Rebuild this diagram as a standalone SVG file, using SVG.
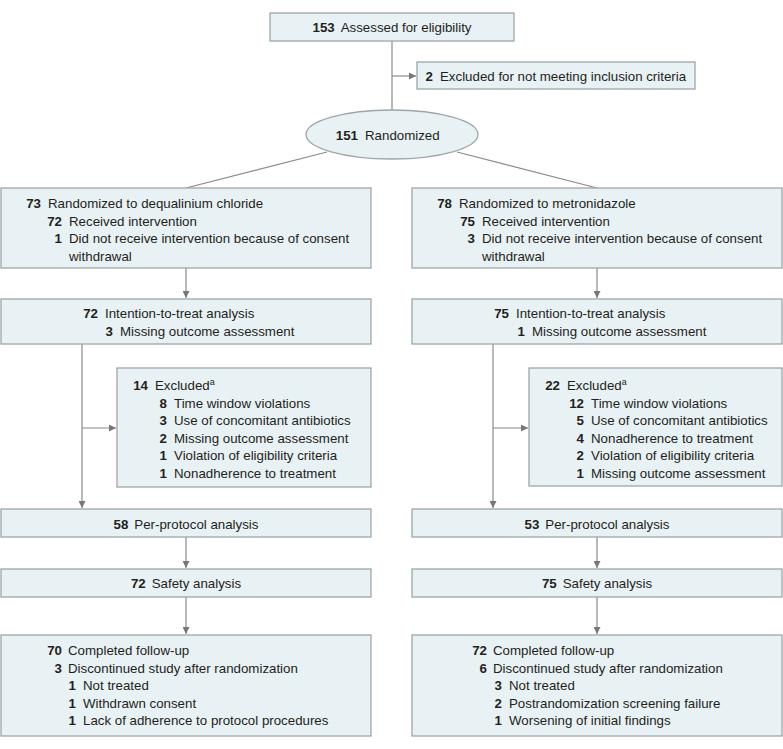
<svg xmlns="http://www.w3.org/2000/svg" width="783" height="749" viewBox="0 0 783 749">
<defs>
<style>
.box{fill:#e8f1f4;stroke:#9ea6a9;stroke-width:1.3}
text{font-family:"Liberation Sans",Arial,sans-serif;font-size:13.3px;fill:#231f20}
.n{font-weight:bold;text-anchor:end}
.b{font-weight:bold}
.c{text-anchor:middle}
.ln{stroke:#8a8a8a;stroke-width:1.2;fill:none}
.sp{font-size:9px}
</style>
<marker id="ah" viewBox="0 0 10 10" refX="10" refY="5" markerWidth="7" markerHeight="7" markerUnits="userSpaceOnUse" orient="auto">
<path d="M0,0 L10,5 L0,10 z" fill="#777"/>
</marker>
</defs>
<rect width="783" height="749" fill="#fff"/>

<g id="connectors">
<line class="ln" x1="392" y1="41" x2="392" y2="110"/>
<line class="ln" x1="392" y1="76" x2="416" y2="76" marker-end="url(#ah)"/>
<line class="ln" x1="327" y1="152" x2="186" y2="188"/>
<line class="ln" x1="457" y1="152" x2="597" y2="188"/>
<line class="ln" x1="186" y1="268" x2="186" y2="298" marker-end="url(#ah)"/>
<line class="ln" x1="597" y1="268" x2="597" y2="298" marker-end="url(#ah)"/>
<line class="ln" x1="82" y1="344" x2="82" y2="508" marker-end="url(#ah)"/>
<line class="ln" x1="82" y1="428" x2="116" y2="428" marker-end="url(#ah)"/>
<line class="ln" x1="493" y1="344" x2="493" y2="508" marker-end="url(#ah)"/>
<line class="ln" x1="493" y1="428" x2="528" y2="428" marker-end="url(#ah)"/>
<line class="ln" x1="186" y1="537" x2="186" y2="568" marker-end="url(#ah)"/>
<line class="ln" x1="597" y1="537" x2="597" y2="568" marker-end="url(#ah)"/>
<line class="ln" x1="186" y1="597" x2="186" y2="634" marker-end="url(#ah)"/>
<line class="ln" x1="597" y1="597" x2="597" y2="634" marker-end="url(#ah)"/>
</g>

<g id="assessed">
<rect class="box" x="270" y="13" width="244" height="28"/>
<text x="392" y="32" class="c"><tspan class="b">153</tspan><tspan dx="6">Assessed for eligibility</tspan></text>
</g>

<g id="excluded-top">
<rect class="box" x="417" y="62" width="278" height="27"/>
<text x="433" y="81" class="n">2</text>
<text x="440" y="81">Excluded for not meeting inclusion criteria</text>
</g>

<g id="randomized">
<ellipse cx="392" cy="134.5" rx="86" ry="24.5" fill="#e8f1f4" stroke="#9ea6a9" stroke-width="1.3"/>
<text x="358" y="140" class="n">151</text>
<text x="365" y="140">Randomized</text>
</g>

<g id="alloc-left">
<rect class="box" x="1" y="188" width="370" height="80"/>
<text x="41" y="208" class="n">73</text><text x="48" y="208">Randomized to dequalinium chloride</text>
<text x="62" y="225.5" class="n">72</text><text x="69" y="225.5">Received intervention</text>
<text x="62" y="243" class="n">1</text><text x="69" y="243">Did not receive intervention because of consent</text>
<text x="69" y="260.5">withdrawal</text>
</g>

<g id="alloc-right">
<rect class="box" x="412" y="188" width="370" height="80"/>
<text x="452" y="208" class="n">78</text><text x="459" y="208">Randomized to metronidazole</text>
<text x="475" y="225.5" class="n">75</text><text x="482" y="225.5">Received intervention</text>
<text x="475" y="243" class="n">3</text><text x="482" y="243">Did not receive intervention because of consent</text>
<text x="482" y="260.5">withdrawal</text>
</g>

<g id="itt-left">
<rect class="box" x="1" y="299" width="370" height="45"/>
<text x="98" y="318" class="n">72</text><text x="105" y="318">Intention-to-treat analysis</text>
<text x="113" y="336" class="n">3</text><text x="120" y="336">Missing outcome assessment</text>
</g>

<g id="itt-right">
<rect class="box" x="412" y="299" width="370" height="45"/>
<text x="509" y="318" class="n">75</text><text x="516" y="318">Intention-to-treat analysis</text>
<text x="525" y="336" class="n">1</text><text x="532" y="336">Missing outcome assessment</text>
</g>

<g id="excl-left">
<rect class="box" x="117" y="368" width="254" height="119"/>
<text x="148" y="390" class="n">14</text><text x="155" y="390">Excluded<tspan class="sp" dy="-5">a</tspan></text>
<text x="167" y="407.5" class="n">8</text><text x="174" y="407.5">Time window violations</text>
<text x="167" y="425" class="n">3</text><text x="174" y="425">Use of concomitant antibiotics</text>
<text x="167" y="442.5" class="n">2</text><text x="174" y="442.5">Missing outcome assessment</text>
<text x="167" y="460" class="n">1</text><text x="174" y="460">Violation of eligibility criteria</text>
<text x="167" y="477.5" class="n">1</text><text x="174" y="477.5">Nonadherence to treatment</text>
</g>

<g id="excl-right">
<rect class="box" x="529" y="368" width="253" height="118"/>
<text x="560" y="390" class="n">22</text><text x="567" y="390">Excluded<tspan class="sp" dy="-5">a</tspan></text>
<text x="584" y="407.5" class="n">12</text><text x="591" y="407.5">Time window violations</text>
<text x="584" y="425" class="n">5</text><text x="591" y="425">Use of concomitant antibiotics</text>
<text x="584" y="442.5" class="n">4</text><text x="591" y="442.5">Nonadherence to treatment</text>
<text x="584" y="460" class="n">2</text><text x="591" y="460">Violation of eligibility criteria</text>
<text x="584" y="477.5" class="n">1</text><text x="591" y="477.5">Missing outcome assessment</text>
</g>

<g id="pp-left">
<rect class="box" x="1" y="509" width="370" height="28"/>
<text x="186" y="528.5" class="c"><tspan class="b">58</tspan><tspan dx="6">Per-protocol analysis</tspan></text>
</g>
<g id="pp-right">
<rect class="box" x="412" y="509" width="370" height="28"/>
<text x="597" y="528.5" class="c"><tspan class="b">53</tspan><tspan dx="6">Per-protocol analysis</tspan></text>
</g>

<g id="safety-left">
<rect class="box" x="1" y="569" width="370" height="28"/>
<text x="186" y="588" class="c"><tspan class="b">72</tspan><tspan dx="6">Safety analysis</tspan></text>
</g>
<g id="safety-right">
<rect class="box" x="412" y="569" width="370" height="28"/>
<text x="597" y="588" class="c"><tspan class="b">75</tspan><tspan dx="6">Safety analysis</tspan></text>
</g>

<g id="fu-left">
<rect class="box" x="1" y="635" width="370" height="101"/>
<text x="62" y="655" class="n">70</text><text x="68" y="655">Completed follow-up</text>
<text x="62" y="672.5" class="n">3</text><text x="68" y="672.5">Discontinued study after randomization</text>
<text x="76" y="690" class="n">1</text><text x="83" y="690">Not treated</text>
<text x="76" y="707.5" class="n">1</text><text x="83" y="707.5">Withdrawn consent</text>
<text x="76" y="725" class="n">1</text><text x="83" y="725">Lack of adherence to protocol procedures</text>
</g>

<g id="fu-right">
<rect class="box" x="412" y="635" width="370" height="101"/>
<text x="487" y="655" class="n">72</text><text x="493" y="655">Completed follow-up</text>
<text x="487" y="672.5" class="n">6</text><text x="493" y="672.5">Discontinued study after randomization</text>
<text x="502" y="690" class="n">3</text><text x="509" y="690">Not treated</text>
<text x="502" y="707.5" class="n">2</text><text x="509" y="707.5">Postrandomization screening failure</text>
<text x="502" y="725" class="n">1</text><text x="509" y="725">Worsening of initial findings</text>
</g>
</svg>
